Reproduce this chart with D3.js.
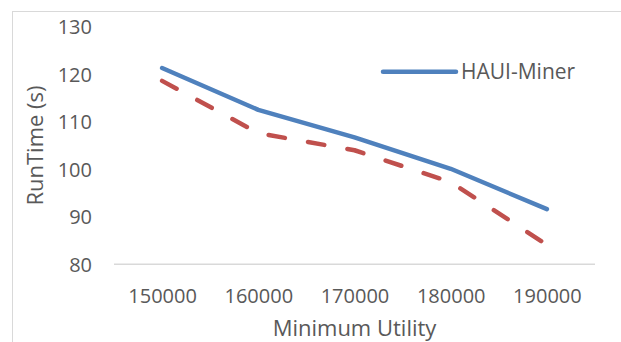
<!DOCTYPE html>
<html>
<head>
<meta charset="utf-8">
<script src="https://cdn.jsdelivr.net/npm/d3@7"></script>
<style>
  html, body { margin: 0; padding: 0; background: #fff; }
  svg { display: block; }
  text { font-family: "Open Sans", "Liberation Sans", sans-serif; fill: #595959; }
</style>
</head>
<body>
<svg id="chart" width="621" height="342"></svg>
<script>
// Minimum utility thresholds (x categories)
const minUtility = ["150000", "160000", "170000", "180000", "190000"];
// Run time in seconds
const hauiMinerTimes = [121.3, 112.5, 106.7, 100.1, 91.6];
const dashedSeriesTimes = [118.6, 107.6, 104.0, 97.3, 84.1];
const yTicks = [80, 90, 100, 110, 120, 130];

const svg = d3.select("#chart");

const plot = { left: 114, right: 595, top: 26.7, bottom: 264.3 };

// chart frame (continues past the right and bottom edges)
svg.append("rect")
  .attr("x", 12.5).attr("y", 11.5)
  .attr("width", 700).attr("height", 400)
  .attr("fill", "none")
  .attr("stroke", "#d9d9d9")
  .attr("stroke-width", 1);

const x = d3.scalePoint()
  .domain(minUtility)
  .range([plot.left, plot.right])
  .padding(0.5);

const y = d3.scaleLinear()
  .domain([80, 130])
  .range([plot.bottom, plot.top]);

// y axis labels (no tick marks, no axis line)
const yAxis = d3.axisLeft(y).tickValues(yTicks).tickSize(0).tickPadding(0);
const yg = svg.append("g")
  .attr("transform", `translate(${plot.left - 22},0)`)
  .call(yAxis);
yg.select(".domain").remove();
yg.selectAll("text")
  .style("font-size", "20px")
  .attr("fill", "#595959")
  .attr("dy", "0.34em");

// horizontal category axis line
const xAxis = d3.axisBottom(x).tickSize(0).tickPadding(0);
const xg = svg.append("g")
  .attr("transform", `translate(0,${plot.bottom})`)
  .call(xAxis);
xg.select(".domain")
  .attr("d", `M${plot.left},0H${plot.right}`)
  .attr("stroke", "#d9d9d9")
  .attr("stroke-width", 1.5);
xg.selectAll("text")
  .style("font-size", "20px")
  .attr("fill", "#595959")
  .attr("y", 39)
  .attr("dy", 0);

// axis titles
svg.append("text")
  .attr("x", (plot.left + plot.right) / 2)
  .attr("y", 336)
  .attr("text-anchor", "middle")
  .style("font-size", "22px")
  .text("Minimum Utility");

svg.append("text")
  .attr("transform", `translate(43,${(plot.top + plot.bottom) / 2}) rotate(-90)`)
  .attr("text-anchor", "middle")
  .style("font-size", "22px")
  .text("RunTime (s)");

const line = d3.line()
  .x((d, i) => x(minUtility[i]))
  .y(d => y(d));

svg.append("path")
  .datum(dashedSeriesTimes)
  .attr("d", line)
  .attr("fill", "none")
  .attr("stroke", "#c0504d")
  .attr("stroke-width", 4.5)
  .attr("stroke-linecap", "round")
  .attr("stroke-linejoin", "round")
  .attr("stroke-dasharray", "16.5 23.5");

svg.append("path")
  .datum(hauiMinerTimes)
  .attr("d", line)
  .attr("fill", "none")
  .attr("stroke", "#4f81bd")
  .attr("stroke-width", 4.5)
  .attr("stroke-linecap", "round")
  .attr("stroke-linejoin", "round");

// legend
const legend = svg.append("g").attr("transform", "translate(383,71.7)");
legend.append("line")
  .attr("x1", 0).attr("x2", 73)
  .attr("y1", 0).attr("y2", 0)
  .attr("stroke", "#4f81bd")
  .attr("stroke-width", 4.5)
  .attr("stroke-linecap", "round");
legend.append("text")
  .attr("x", 78)
  .attr("y", 0)
  .attr("dy", "0.36em")
  .style("font-size", "21px")
  .text("HAUI-Miner");
</script>
</body>
</html>
